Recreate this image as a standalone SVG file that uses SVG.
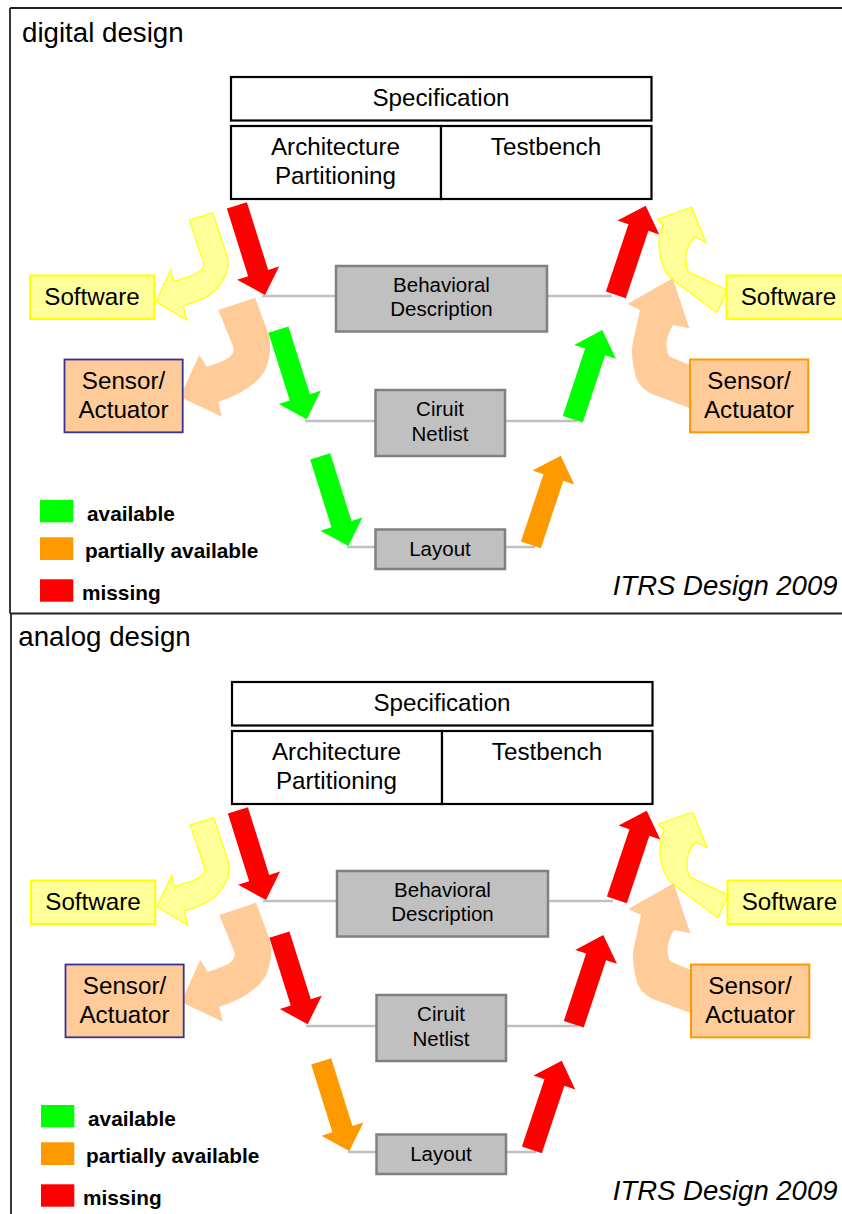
<svg xmlns="http://www.w3.org/2000/svg" width="842" height="1214" viewBox="0 0 842 1214">
<defs>
<style>
text{font-family:"Liberation Sans",Arial,sans-serif;fill:#000}
.title{font-size:27.7px}
.big{font-size:24.2px;text-anchor:middle}
.mid{font-size:20.5px;text-anchor:middle}
.leg{font-size:20.8px;font-weight:bold}
.cite{font-size:27.5px;font-style:italic;text-anchor:end}
.spec{fill:#fff;stroke:#000;stroke-width:2.2}
.gray{fill:#c0c0c0;stroke:#808080;stroke-width:2.5}
.sw{fill:#ffff99;stroke:#ffff00;stroke-width:2}
.sensL{fill:#ffcc99;stroke:#333399;stroke-width:1.8}
.sensR{fill:#ffcc99;stroke:#ff9900;stroke-width:2}
.conn{stroke:#c0c0c0;stroke-width:2.5;fill:none}
.border{stroke:#222;stroke-width:1.8;fill:none}
.yel{fill:#ffff99;stroke:#ffff00;stroke-width:1.2}
.pea{fill:#ffcc99}
.red{fill:#ff0000}.grn{fill:#00ff00}.org{fill:#ff9900}
</style>
<path id="blk" d="M-10.5,-94 L10.5,-94 L10.5,-23 L22,-23 L0,0 L-22,-23 L-10.5,-23 Z"/>
<path id="yelL" d="M189.3,220 L212.7,212.7 L227.3,256.7 C230,266 226,285 206.7,296.7 C200,300 190,304 183.3,306 L186.7,320 L156,301.7 L170.7,270 L173.3,281.7 C182,279 192,276 196.7,273.3 C203,269 205,266 203.3,261.7 Z"/>
<path id="peaL" d="M218.3,310 L255,297.7 L268.3,333.3 C272,345 270,362 263.3,373.3 C255,385 240,395 218.3,401.7 L221.7,416.7 L180,397 L199.3,355 L206.7,366.7 C215,364 225,361 230,356.7 C234,353 234,350 233.3,346.7 Z"/>
<path id="yelR" d="M691.7,207.3 L706,242.7 L695,236.7 C688,243 685,253 686,260 C686,265 687,269 688.3,271.7 L726.7,290 L726.7,292 L716.7,312.7 L673.3,280 C666,275 661,264 659.3,250 C658,240 660,232 663.3,225 L657.3,219.3 Z"/>
<path id="peaR" d="M672.7,278.3 L689.3,328.3 L673.3,325 C668,333 666,341 666.7,346.7 C667,352 668,355 670,356.7 L690,365 L690,408.3 L650,393.3 C640,387 636,380 635,373.3 C632,362 631,350 633.3,340 L640,310 L627.3,304 Z"/>
</defs>

<g id="borders">
<path class="border" d="M10,8 H842 M10,8 V613.5 M10,613.5 H842 M11,613.5 V1214"/>
</g>

<!-- DIGITAL PANEL -->
<g id="digital">
<text id="d-title" class="title" x="22" y="42">digital design</text>

<g id="d-connectors">
<line class="conn" x1="262" y1="296" x2="336" y2="296"/>
<line class="conn" x1="547" y1="296" x2="612" y2="296"/>
<line class="conn" x1="305" y1="421" x2="375" y2="421"/>
<line class="conn" x1="505" y1="421" x2="577" y2="421"/>
<line class="conn" x1="347" y1="547" x2="375" y2="547"/>
<line class="conn" x1="505" y1="547" x2="535" y2="547"/>
<use href="#yelL" class="yel"/>
<use href="#peaL" class="pea"/>
<use href="#yelR" class="yel"/>
<use href="#peaR" class="pea"/>
<use href="#blk" class="red" transform="translate(265,295) rotate(-17.4)"/>
<use href="#blk" class="grn" transform="translate(306.7,419.3) rotate(-17.5)"/>
<use href="#blk" class="grn" transform="translate(348.3,546) rotate(-17.4)"/>
<use href="#blk" class="red" transform="translate(645.7,205.7) rotate(198.5)"/>
<use href="#blk" class="grn" transform="translate(602.3,330) rotate(198.3)"/>
<use href="#blk" class="org" transform="translate(560.7,455.7) rotate(198.5)"/>
</g>

<g id="d-spec"><rect class="spec" x="231" y="77" width="420.5" height="43.5"/><text class="big" x="441" y="106">Specification</text></g>
<g id="d-arch"><rect class="spec" x="231" y="126" width="210" height="73"/><text class="big" x="335.5" y="155">Architecture</text><text class="big" x="335.5" y="184">Partitioning</text></g>
<g id="d-testbench"><rect class="spec" x="441" y="126" width="210.5" height="73"/><text class="big" x="546" y="155">Testbench</text></g>
<g id="d-behav"><rect class="gray" x="336" y="266" width="211" height="65.5"/><text class="mid" x="441.5" y="291.5">Behavioral</text><text class="mid" x="441.5" y="316">Description</text></g>
<g id="d-netlist"><rect class="gray" x="375.5" y="390" width="129.5" height="66"/><text class="mid" x="440" y="415.5">Ciruit</text><text class="mid" x="440" y="440.5">Netlist</text></g>
<g id="d-layout"><rect class="gray" x="375.5" y="529.5" width="129.5" height="39.5"/><text class="mid" x="440" y="555.5">Layout</text></g>
<g id="d-sw-left"><rect class="sw" x="30" y="275.5" width="124.3" height="43.5"/><text class="big" x="92" y="305">Software</text></g>
<g id="d-sw-right"><rect class="sw" x="726.5" y="275.5" width="130" height="43.5"/><text class="big" x="740.7" y="305" style="text-anchor:start">Software</text></g>
<g id="d-sens-left"><rect class="sensL" x="64.5" y="359.5" width="118.2" height="72.8"/><text class="big" x="123.5" y="389.3">Sensor/</text><text class="big" x="123.5" y="418.3">Actuator</text></g>
<g id="d-sens-right"><rect class="sensR" x="690" y="359.5" width="118.3" height="72.8"/><text class="big" x="749" y="389.3">Sensor/</text><text class="big" x="749" y="418.3">Actuator</text></g>

<g id="d-legend">
<rect class="grn" x="40" y="500" width="33.3" height="22.3"/><text class="leg" x="87" y="521">available</text>
<rect class="org" x="40" y="537.3" width="33.3" height="22.7"/><text class="leg" x="85" y="558">partially available</text>
<rect class="red" x="40" y="579.3" width="33.3" height="22.4"/><text class="leg" x="82" y="600">missing</text>
</g>
<text id="d-cite" class="cite" x="837.5" y="595">ITRS Design 2009</text>
</g>

<!-- ANALOG PANEL -->
<g id="analog" transform="translate(1,605)">
<text id="a-title" class="title" x="17.3" y="41">analog design</text>

<g id="a-connectors">
<line class="conn" x1="262" y1="296" x2="336" y2="296"/>
<line class="conn" x1="547" y1="296" x2="612" y2="296"/>
<line class="conn" x1="305" y1="421" x2="375" y2="421"/>
<line class="conn" x1="505" y1="421" x2="577" y2="421"/>
<line class="conn" x1="347" y1="547" x2="375" y2="547"/>
<line class="conn" x1="505" y1="547" x2="535" y2="547"/>
<use href="#yelL" class="yel"/>
<use href="#peaL" class="pea"/>
<use href="#yelR" class="yel"/>
<use href="#peaR" class="pea"/>
<use href="#blk" class="red" transform="translate(265,295) rotate(-17.4)"/>
<use href="#blk" class="red" transform="translate(306.7,419.3) rotate(-17.5)"/>
<use href="#blk" class="org" transform="translate(348.3,546) rotate(-17.4)"/>
<use href="#blk" class="red" transform="translate(645.7,205.7) rotate(198.5)"/>
<use href="#blk" class="red" transform="translate(602.3,330) rotate(198.3)"/>
<use href="#blk" class="red" transform="translate(560.7,455.7) rotate(198.5)"/>
</g>

<g id="a-spec"><rect class="spec" x="231" y="77" width="420.5" height="43.5"/><text class="big" x="441" y="106">Specification</text></g>
<g id="a-arch"><rect class="spec" x="231" y="126" width="210" height="73"/><text class="big" x="335.5" y="155">Architecture</text><text class="big" x="335.5" y="184">Partitioning</text></g>
<g id="a-testbench"><rect class="spec" x="441" y="126" width="210.5" height="73"/><text class="big" x="546" y="155">Testbench</text></g>
<g id="a-behav"><rect class="gray" x="336" y="266" width="211" height="65.5"/><text class="mid" x="441.5" y="291.5">Behavioral</text><text class="mid" x="441.5" y="316">Description</text></g>
<g id="a-netlist"><rect class="gray" x="375.5" y="390" width="129.5" height="66"/><text class="mid" x="440" y="415.5">Ciruit</text><text class="mid" x="440" y="440.5">Netlist</text></g>
<g id="a-layout"><rect class="gray" x="375.5" y="529.5" width="129.5" height="39.5"/><text class="mid" x="440" y="555.5">Layout</text></g>
<g id="a-sw-left"><rect class="sw" x="30" y="275.5" width="124.3" height="43.5"/><text class="big" x="92" y="305">Software</text></g>
<g id="a-sw-right"><rect class="sw" x="726.5" y="275.5" width="130" height="43.5"/><text class="big" x="740.7" y="305" style="text-anchor:start">Software</text></g>
<g id="a-sens-left"><rect class="sensL" x="64.5" y="359.5" width="118.2" height="72.8"/><text class="big" x="123.5" y="389.3">Sensor/</text><text class="big" x="123.5" y="418.3">Actuator</text></g>
<g id="a-sens-right"><rect class="sensR" x="690" y="359.5" width="118.3" height="72.8"/><text class="big" x="749" y="389.3">Sensor/</text><text class="big" x="749" y="418.3">Actuator</text></g>

<g id="a-legend">
<rect class="grn" x="40" y="500" width="33.3" height="22.3"/><text class="leg" x="87" y="521">available</text>
<rect class="org" x="40" y="537.3" width="33.3" height="22.7"/><text class="leg" x="85" y="558">partially available</text>
<rect class="red" x="40" y="579.3" width="33.3" height="22.4"/><text class="leg" x="82" y="600">missing</text>
</g>
<text id="a-cite" class="cite" x="836.5" y="595">ITRS Design 2009</text>
</g>
</svg>
